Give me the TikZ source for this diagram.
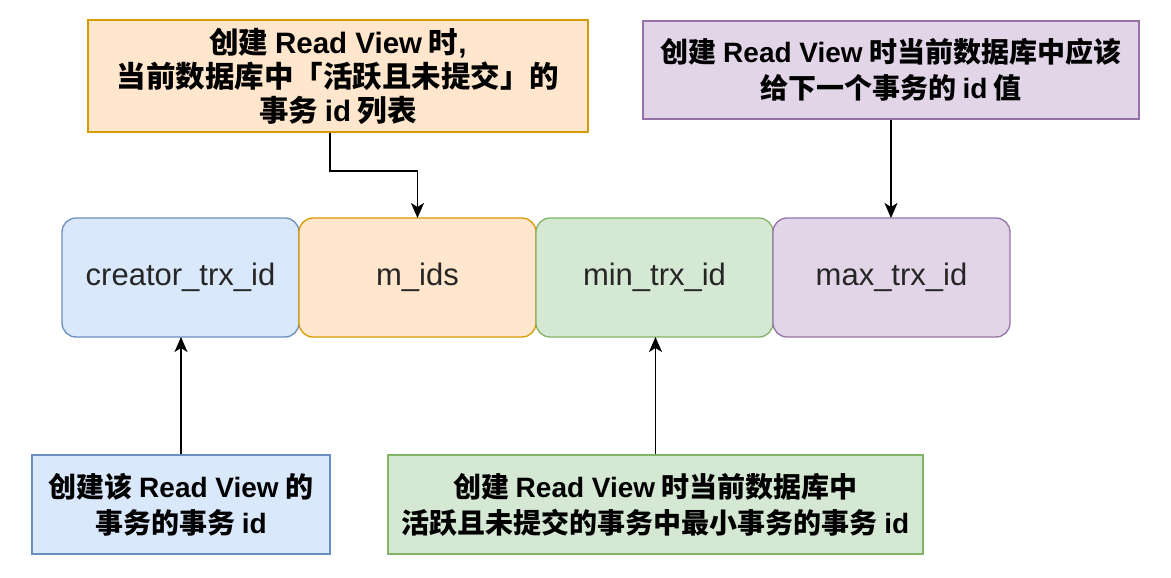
\documentclass[tikz,border=0pt]{standalone}
\usepackage{fontspec}
\setmainfont{Liberation Sans}
\newfontfamily\cjk{Noto Sans CJK SC}
\newfontfamily\lat{Liberation Sans}
\usetikzlibrary{positioning,arrows.meta}
\definecolor{blueF}{HTML}{DAE8FC}
\definecolor{blueD}{HTML}{6C8EBF}
\definecolor{orangeF}{HTML}{FFE6CC}
\definecolor{orangeD}{HTML}{D79B00}
\definecolor{greenF}{HTML}{D5E8D4}
\definecolor{greenD}{HTML}{82B366}
\definecolor{purpleF}{HTML}{E1D5E7}
\definecolor{purpleD}{HTML}{9673A6}
\newcommand\RV{{\lat Read View}}
\newcommand\ID{{\lat id}}
\tikzset{
    field/.style={
    rectangle,rounded corners=14pt,draw,line width=1.3pt,outer sep=0pt,
    minimum width=237pt,minimum height=119pt,inner sep=0pt,
    text=black!85,font=\fontsize{31}{36}\selectfont
    },
    note/.style={
    rectangle,draw,line width=1.3pt,inner sep=0pt,align=center,
    font=\cjk\bfseries\fontsize{28}{36}\selectfont
    },
    link/.style={
    -{Stealth[length=15pt,width=13pt,inset=4pt]},line width=1.8pt
    },
}
\begin{document}
\begin{tikzpicture}[x=1pt,y=-1pt]
   \useasboundingbox (0,0) rectangle (1171,578);
   % the four fields of the read view
   \node[field,fill=blueF,draw=blueD] (creator) at (180.5,277.5) {creator\_trx\_id};
   \node[field,fill=orangeF,draw=orangeD,right=0pt of creator] (mids) {m\_ids};
   \node[field,fill=greenF,draw=greenD,right=0pt of mids] (minid) {min\_trx\_id};
   \node[field,fill=purpleF,draw=purpleD,right=0pt of minid] (maxid) {max\_trx\_id};

   % notes
   \node[note,fill=orangeF,draw=orangeD,minimum width=500pt,minimum height=112pt,
     font=\cjk\bfseries\fontsize{29.5}{34}\selectfont] (active) at (338,76)
     {创建 \RV{} 时{\lat,}\\当前数据库中「活跃且未提交」的\\事务 \ID{} 列表};
   \node[note,fill=purpleF,draw=purpleD,minimum width=496pt,minimum height=98pt] (next) at (891,70)
     {创建 \RV{} 时当前数据库中应该\\给下一个事务的 \ID{} 值};
   \node[note,fill=blueF,draw=blueD,minimum width=298pt,minimum height=99pt] (self) at (181,504.5)
     {创建该 \RV{} 的\\事务的事务 \ID};
   \node[note,fill=greenF,draw=greenD,minimum width=535pt,minimum height=99pt] (lowest) at (655.5,504.5)
     {创建 \RV{} 时当前数据库中\\活跃且未提交的事务中最小事务的事务 \ID};

   \draw[link] ([xshift=-8pt]active.south) -- ++(0,38) -| (mids.north);
   \draw[link] (next.south) -- (next.south |- maxid.north);
   \draw[link] (self.north) -- (self.north |- creator.south);
   \draw[link] (lowest.north) -- (lowest.north |- minid.south);
\end{tikzpicture}
\end{document}
